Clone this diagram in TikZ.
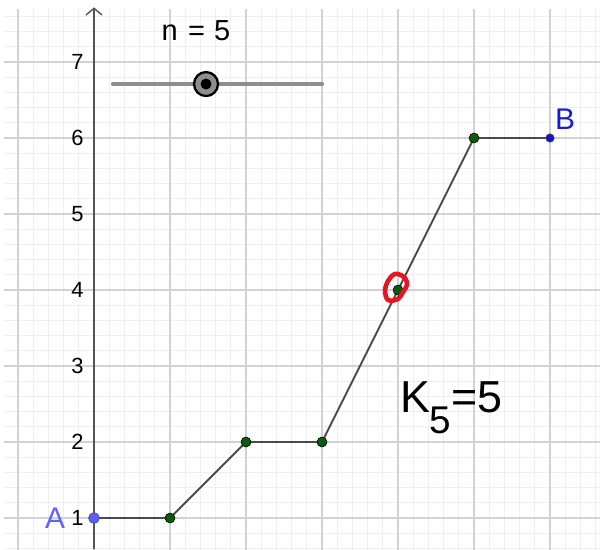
\documentclass[tikz,border=0pt]{standalone}
\usepackage{fontspec}
\setmainfont{Liberation Sans}
\definecolor{minorgrid}{HTML}{EFEFEF}
\definecolor{majorgrid}{HTML}{D2D2D2}
\definecolor{axisgray}{HTML}{555555}
\definecolor{segcol}{HTML}{4A4A4A}
\definecolor{ptgreen}{HTML}{0B5A0B}
\definecolor{ptA}{HTML}{5C5CFF}
\definecolor{ptB}{HTML}{1414D2}
\definecolor{labA}{HTML}{6262FF}
\definecolor{labB}{HTML}{1A1ADB}
\definecolor{slidercol}{HTML}{8E8E8E}
\definecolor{loopred}{HTML}{E8141E}
\tikzset{
  minorline/.style={draw=minorgrid, line width=0.55pt},
  majorline/.style={draw=majorgrid, line width=0.6pt},
  axisline/.style={draw=axisgray, line width=1.1pt},
  segment/.style={draw=segcol, line width=1.1pt},
  greenpt/.style={circle, fill=ptgreen, draw=black, line width=0.3pt, inner sep=0pt, minimum size=0.2cm},
  bluepta/.style={circle, fill=ptA, draw=black!70, line width=0.3pt, inner sep=0pt, minimum size=0.22cm},
  blueptb/.style={circle, fill=ptB, draw=black!70, line width=0.3pt, inner sep=0pt, minimum size=0.17cm},
  ticklab/.style={anchor=east, inner sep=0pt, font=\fontsize{12.5}{14}\selectfont},
  ptlab/.style={inner sep=0pt, font=\fontsize{17}{19}\selectfont},
}
\begin{document}
\begin{tikzpicture}[x=1.52cm,y=1.52cm]
\useasboundingbox (-1.2368,0.5921) rectangle (6.6579,7.8158);
\fill[white] (-1.2368,0.5921) rectangle (6.6579,7.8158);
\begin{scope}
  \clip (-1.184,0.5921) rectangle (6.6579,7.697);
  \draw[minorline, step=0.2] (-1.4,0.4) grid (6.8,7.8);
  \draw[majorline, step=1] (-2,0) grid (7,8);
\end{scope}
% y axis
\coordinate (axbot) at (0,0.5921);
\coordinate (axtop) at (0,7.707);
\draw[axisline] (axbot) -- (axtop);
\draw[draw=axisgray, line width=0.8pt] (-0.105,7.618) -- (axtop) -- (0.105,7.618);
% tick labels
\foreach \k in {1,...,7}{
  \node[ticklab] (t\k) at (-0.132,\k) {\k};
}
% slider
\coordinate (sl0) at (0.25,6.71);
\coordinate (sl1) at (3.0,6.71);
\draw[draw=slidercol, line width=2.4pt, line cap=round] (sl0) -- (sl1);
\node[circle, fill=slidercol, draw=black, line width=1.3pt, minimum size=0.48cm, inner sep=0pt] (knob) at (1.474,6.71) {};
\node[circle, fill=black, minimum size=0.22cm, inner sep=0pt] (knobin) at (knob) {};
\node[inner sep=0pt, font=\fontsize{16.5}{18}\selectfont] (nlab) at (1.342,7.408) {n\hspace{0.08em} =\hspace{0.04em} 5};
% points (positions)
\coordinate (c0) at (0,1);
\coordinate (c1) at (1,1);
\coordinate (c2) at (2,2);
\coordinate (c3) at (3,2);
\coordinate (c4) at (4,4);
\coordinate (c5) at (5,6);
\coordinate (c6) at (6,6);
\draw[segment] (c0) -- (c1) -- (c2) -- (c3) -- (c4) -- (c5) -- (c6);
\node[bluepta] (p0) at (c0) {};
\node[greenpt] (p1) at (c1) {};
\node[greenpt] (p2) at (c2) {};
\node[greenpt] (p3) at (c3) {};
\node[greenpt] (p4) at (c4) {};
\node[greenpt] (p5) at (c5) {};
\node[blueptb] (p6) at (c6) {};
% labels
\node[ptlab, text=labA] (la) at (-0.513,1.0) {A};
\node[ptlab, text=labB] (lb) at (6.197,6.25) {B};
\node[anchor=base west, inner sep=0pt, font=\fontsize{25.5}{27}\selectfont] (klab) at (4.03,2.382) {K\kern-0.02em\raisebox{-0.42cm}{\fontsize{22}{23}\selectfont 5}=5};
% red loop
\begin{scope}[shift={(p4)}, x=0.02cm, y=0.02cm]
\draw[draw=loopred, line width=2.6pt, line join=round] plot[smooth cycle, tension=0.6] coordinates {(0,16) (7,12) (9,5) (5,-2) (0,-9) (-10,-10) (-13,0) (-10,9) (-5,15)};
\end{scope}
\end{tikzpicture}
\end{document}
